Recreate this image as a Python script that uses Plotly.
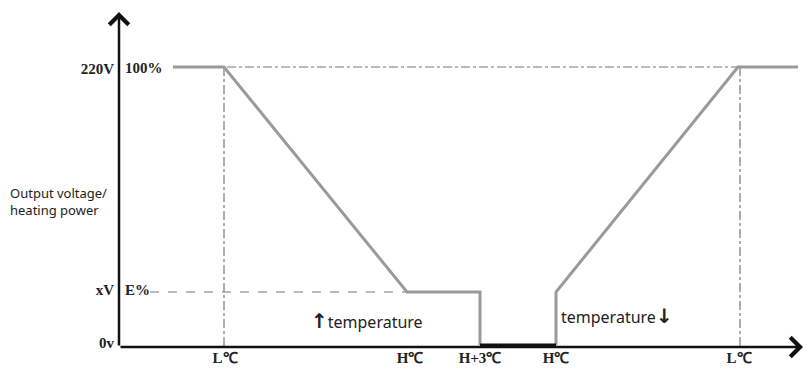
import plotly.graph_objects as go

# ---- data (axis units: x = temperature position, y = output level) ----
curve_x = [54, 105, 288, 361, 361]
curve_y = [280, 280, 55, 55, 2]
curve2_x = [437, 437, 619, 679]
curve2_y = [2, 55, 280, 280]
off_x = [361, 437]
off_y = [2, 2]

full_level = 280
e_level = 55
x_tick_vals = [106, 291, 361, 437, 620]
x_tick_text = ["L℃", "H℃", "H+3℃", "H℃", "L℃"]
y_tick_vals = [278, 57, 4]
y_tick_text = ["220V", "xV", "0v"]
L1, L2 = 105, 621

serif = "Liberation Serif"
sans = "Noto Sans"

fig = go.Figure()

# guide lines
fig.add_trace(go.Scatter(x=[54, L2], y=[full_level, full_level], mode="lines",
                         line=dict(color="#777", width=1.2, dash="dashdot"), hoverinfo="skip"))
fig.add_trace(go.Scatter(x=[31, 288], y=[e_level, e_level], mode="lines",
                         line=dict(color="#777", width=1.2, dash="dash"), hoverinfo="skip"))
fig.add_trace(go.Scatter(x=[L1, L1], y=[full_level, 0], mode="lines",
                         line=dict(color="#777", width=1.2, dash="dashdot"), hoverinfo="skip"))
fig.add_trace(go.Scatter(x=[L2, L2], y=[full_level, 0], mode="lines",
                         line=dict(color="#777", width=1.2, dash="dashdot"), hoverinfo="skip"))

# curves
fig.add_trace(go.Scatter(x=curve_x, y=curve_y, mode="lines",
                         line=dict(color="#9a9a9a", width=3), hoverinfo="skip"))
fig.add_trace(go.Scatter(x=curve2_x, y=curve2_y, mode="lines",
                         line=dict(color="#9a9a9a", width=3), hoverinfo="skip"))
fig.add_trace(go.Scatter(x=off_x, y=off_y, mode="lines",
                         line=dict(color="#111", width=3), hoverinfo="skip"))

# axes with arrows
fig.add_annotation(x=684, y=0, ax=0, ay=0, xref="x", yref="y", axref="x", ayref="y",
                   showarrow=True, arrowhead=4, arrowsize=1.5, arrowwidth=2.5,
                   arrowcolor="#111", text="", standoff=0)
fig.add_annotation(x=0, y=335, ax=0, ay=0, xref="x", yref="y", axref="x", ayref="y",
                   showarrow=True, arrowhead=4, arrowsize=1.5, arrowwidth=2.5,
                   arrowcolor="#111", text="", standoff=0)

# labels
fig.add_annotation(x=4, y=279, xref="x", yref="y", text="<b>100%</b>", showarrow=False,
                   xanchor="left", font=dict(family=serif, size=15, color="#222"))
fig.add_annotation(x=4, y=57, xref="x", yref="y", text="<b>E%</b>", showarrow=False,
                   xanchor="left", font=dict(family=serif, size=15, color="#222"))
fig.add_annotation(x=-0.163, y=0.435, xref="paper", yref="paper",
                   text="Output voltage/<br>heating power",
                   showarrow=False, xanchor="left", align="left",
                   font=dict(family=sans, size=13, color="#222"))
fig.add_annotation(x=190, y=26, xref="x", yref="y",
                   text="<span style='font-family:DejaVu Sans;font-size:20px'><b>↑</b></span>temperature",
                   showarrow=False, xanchor="left", font=dict(family=sans, size=16, color="#222"))
fig.add_annotation(x=440, y=31, xref="x", yref="y",
                   text="temperature<span style='font-family:DejaVu Sans;font-size:20px'><b>↓</b></span>",
                   showarrow=False, xanchor="left", font=dict(family=sans, size=16, color="#222"))

fig.update_layout(
    width=811, height=385, margin=dict(l=119, r=8, t=12, b=38),
    paper_bgcolor="white", plot_bgcolor="white", showlegend=False,
    xaxis=dict(range=[0, 684], showgrid=False, zeroline=False, showline=False,
               tickvals=x_tick_vals, ticktext=x_tick_text, ticks="",
               tickfont=dict(family=serif, size=15, color="#222", weight="bold")),
    yaxis=dict(range=[0, 335], showgrid=False, zeroline=False, showline=False,
               tickvals=y_tick_vals, ticktext=y_tick_text, ticks="", ticklabelstandoff=4,
               tickfont=dict(family=serif, size=15, color="#222", weight="bold")),
)

fig.write_html("out.html")
